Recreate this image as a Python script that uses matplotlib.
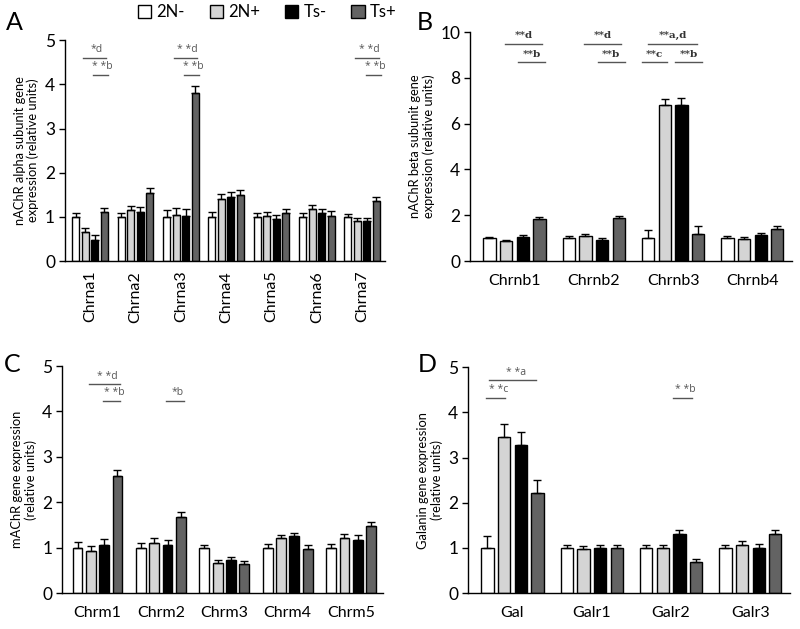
import matplotlib
matplotlib.use("Agg")
import matplotlib.pyplot as plt
from matplotlib.patches import Patch
import numpy as np

plt.rcParams['font.family'] = ['Lato', 'DejaVu Sans']

groups = ['2N-', '2N+', 'Ts-', 'Ts+']
colors = ['#ffffff', '#d4d4d4', '#000000', '#636363']

# panel A - nAChR alpha
a_genes = ['Chrna1', 'Chrna2', 'Chrna3', 'Chrna4', 'Chrna5', 'Chrna6', 'Chrna7']
a_mean = [[1.00, 0.66, 0.48, 1.12],
          [1.00, 1.16, 1.12, 1.55],
          [1.00, 1.05, 1.01, 3.80],
          [1.00, 1.41, 1.46, 1.49],
          [1.00, 1.02, 0.96, 1.09],
          [1.00, 1.18, 1.09, 1.03],
          [1.00, 0.91, 0.90, 1.37]]
a_sem = [[0.08, 0.09, 0.10, 0.09],
         [0.09, 0.09, 0.10, 0.11],
         [0.16, 0.14, 0.16, 0.16],
         [0.11, 0.10, 0.10, 0.11],
         [0.09, 0.08, 0.08, 0.08],
         [0.09, 0.09, 0.09, 0.11],
         [0.07, 0.07, 0.07, 0.07]]
# (gene, x from, x to, y, label)
a_sig = [(0, -0.15, 0.35, 4.60, '*d'), (0, 0.06, 0.39, 4.21, '* *b'),
         (2, -0.15, 0.35, 4.60, '* *d'), (2, 0.06, 0.39, 4.21, '* *b'),
         (6, -0.15, 0.38, 4.60, '* *d'), (6, 0.08, 0.42, 4.21, '* *b')]

# panel B - nAChR beta
b_genes = ['Chrnb1', 'Chrnb2', 'Chrnb3', 'Chrnb4']
b_mean = [[1.00, 0.87, 1.07, 1.83],
          [1.00, 1.08, 0.91, 1.90],
          [1.00, 6.80, 6.80, 1.17],
          [1.00, 0.98, 1.14, 1.42]]
b_sem = [[0.07, 0.06, 0.08, 0.10],
         [0.08, 0.08, 0.09, 0.08],
         [0.35, 0.29, 0.33, 0.38],
         [0.08, 0.07, 0.09, 0.10]]
b_sig = [(0, -0.12, 0.35, 9.50, '**d'), (0, 0.05, 0.39, 8.69, '**b'),
         (1, -0.12, 0.35, 9.50, '**d'), (1, 0.05, 0.39, 8.69, '**b'),
         (2, -0.31, 0.30, 9.50, '**a,d'), (2, -0.39, -0.07, 8.69, '**c'),
         (2, 0.03, 0.37, 8.69, '**b')]

# panel C - mAChR
c_genes = ['Chrm1', 'Chrm2', 'Chrm3', 'Chrm4', 'Chrm5']
c_mean = [[1.00, 0.93, 1.06, 2.57],
          [1.00, 1.10, 1.06, 1.67],
          [1.00, 0.67, 0.73, 0.64],
          [1.00, 1.21, 1.26, 0.97],
          [1.00, 1.22, 1.18, 1.48]]
c_sem = [[0.13, 0.11, 0.13, 0.15],
         [0.10, 0.11, 0.10, 0.12],
         [0.06, 0.07, 0.06, 0.06],
         [0.08, 0.08, 0.07, 0.08],
         [0.08, 0.08, 0.09, 0.08]]
c_sig = [(0, -0.13, 0.36, 4.60, '* *d'), (0, 0.08, 0.36, 4.23, '* *b'),
         (1, 0.08, 0.36, 4.23, '*b')]

# panel D - galanin
d_genes = ['Gal', 'Galr1', 'Galr2', 'Galr3']
d_mean = [[1.00, 3.46, 3.29, 2.21],
          [1.00, 0.97, 0.99, 0.99],
          [1.00, 0.99, 1.32, 0.69],
          [1.00, 1.07, 1.00, 1.31]]
d_sem = [[0.27, 0.28, 0.27, 0.30],
         [0.07, 0.07, 0.07, 0.07],
         [0.07, 0.08, 0.07, 0.07],
         [0.07, 0.08, 0.08, 0.08]]
d_sig = [(0, -0.29, 0.30, 4.71, '* *a'), (0, -0.33, -0.09, 4.32, '* *c'),
         (2, 0.03, 0.26, 4.32, '* *b')]


def draw(ax, genes, mean, sem, sig, ymax, step, ylabel, rot=0, serif=False):
    mean = np.array(mean)
    sem = np.array(sem)
    x = np.arange(len(genes))
    w = 0.155
    for i in range(4):
        off = (i - 1.5) * 0.21
        ax.bar(x + off, mean[:, i], w, color=colors[i], edgecolor='black',
               linewidth=1.0, zorder=2)
        ax.errorbar(x + off, mean[:, i], yerr=[np.zeros(len(genes)), sem[:, i]],
                    fmt='none', ecolor='black', elinewidth=1.0, capsize=3,
                    capthick=1.0, zorder=3)
    for g, x0, x1, y, lab in sig:
        ax.plot([g + x0, g + x1], [y, y], color='#555555', lw=1.0)
        if serif:
            ax.text(g + (x0 + x1) / 2, y + ymax * 0.015, lab, ha='center', va='bottom',
                    fontsize=7.5, color='#333333', family='DejaVu Serif',
                    fontweight='bold')
        else:
            ax.text(g + (x0 + x1) / 2 + 0.04, y + ymax * 0.012, lab,
                    ha='center', va='bottom', fontsize=7.5, color='#555555',
                    family='Open Sans')
    ax.set_xlim(-0.56, len(genes) - 0.5)
    ax.set_ylim(0, ymax)
    ax.set_yticks(np.arange(0, ymax + 0.01, step))
    ax.set_xticks(x)
    ax.set_xticklabels(genes, rotation=rot, fontsize=11.5)
    ax.tick_params(axis='x', length=0, pad=9 if rot == 0 else 7)
    ax.tick_params(axis='y', direction='out', length=4, width=1, labelsize=12.5, pad=3)
    for s in ['top', 'right']:
        ax.spines[s].set_visible(False)
    for s in ['left', 'bottom']:
        ax.spines[s].set_linewidth(1.0)
    ax.set_ylabel(ylabel, fontsize=9.3, linespacing=1.1, labelpad=4)


fig = plt.figure(figsize=(8, 6.29), dpi=100)
ax_a = fig.add_axes([0.081, 0.585, 0.40, 0.351])
ax_b = fig.add_axes([0.5875, 0.585, 0.4025, 0.364])
ax_c = fig.add_axes([0.0775, 0.057, 0.401, 0.361])
ax_d = fig.add_axes([0.585, 0.057, 0.4025, 0.359])

draw(ax_a, a_genes, a_mean, a_sem, a_sig, 5, 1,
     'nAChR alpha subunit gene\nexpression (relative units)', rot=90)
draw(ax_b, b_genes, b_mean, b_sem, b_sig, 10, 2,
     'nAChR beta subunit gene\nexpression (relative units)', serif=True)
draw(ax_c, c_genes, c_mean, c_sem, c_sig, 5, 1,
     'mAChR gene expression\n(relative units)')
draw(ax_d, d_genes, d_mean, d_sem, d_sig, 5, 1,
     'Galanin gene expression\n(relative units)')

for lx, ly, letter in [(0.018, 0.964, 'A'), (0.531, 0.964, 'B'),
                       (0.015, 0.42, 'C'), (0.534, 0.42, 'D')]:
    fig.text(lx, ly, letter, fontsize=18, ha='center', va='center')

handles = [Patch(facecolor=c, edgecolor='black', linewidth=1.0) for c in colors]
fig.legend(handles, groups, loc='center', bbox_to_anchor=(0.334, 0.981), ncol=4,
           frameon=False, fontsize=12, handlelength=0.8, handleheight=0.8,
           handletextpad=0.3, columnspacing=1.5, borderpad=0)

fig.savefig('out.png', dpi=100)
